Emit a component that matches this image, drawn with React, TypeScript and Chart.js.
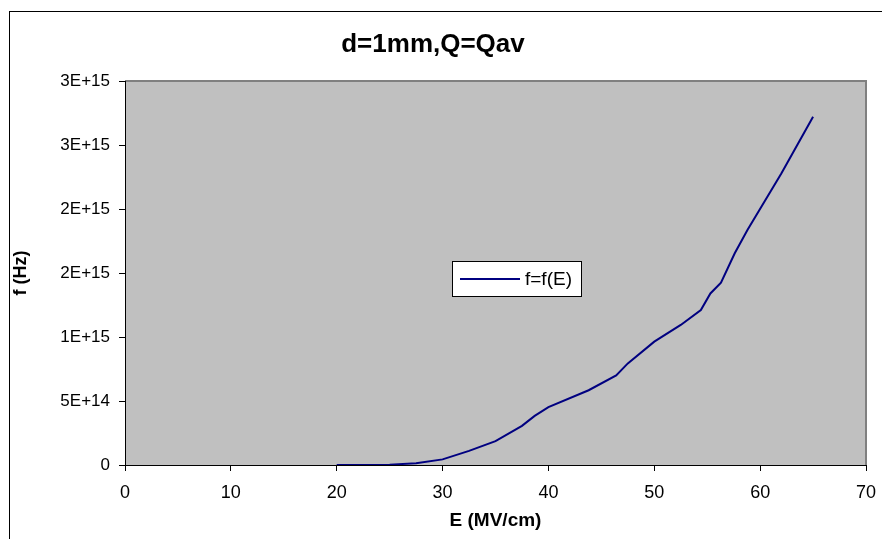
import React, { useEffect, useRef } from "react";
import { Chart, registerables } from "chart.js";

Chart.register(...registerables);

const chartTitle = "d=1mm,Q=Qav";
const xAxisTitle = "E (MV/cm)";
const yAxisTitle = "f (Hz)";
const seriesLabel = "f=f(E)";

const eValues = [20, 22.5, 25, 27.5, 30, 32.5, 35, 37.5, 38.7, 40, 43.8, 46.4, 47.5, 50, 52.5, 54.4, 55.3, 56.3, 57.6, 58.8, 62, 65];
const fValues = [0, 0, 2e12, 1.4e13, 4.4e13, 1.1e14, 1.86e14, 3.06e14, 3.84e14, 4.52e14, 5.84e14, 7.0e14, 7.94e14, 9.64e14, 1.094e15, 1.21e15, 1.34e15, 1.424e15, 1.654e15, 1.836e15, 2.278e15, 2.72e15];

const yTickLabels = ["0", "5E+14", "1E+15", "2E+15", "2E+15", "3E+15", "3E+15"];
const xTickLabels = ["0", "10", "20", "30", "40", "50", "60", "70"];

const FONT = "'Liberation Sans', Arial, sans-serif";

const decorPlugin = {
  id: "decor",
  beforeDraw(chart: any) {
    const { ctx, chartArea } = chart;
    ctx.save();
    ctx.fillStyle = "#ffffff";
    ctx.fillRect(0, 0, chart.width, chart.height);
    ctx.strokeStyle = "#000000";
    ctx.lineWidth = 1;
    ctx.strokeRect(9.5, 11.5, chart.width + 20, chart.height + 20);
    ctx.fillStyle = "#C0C0C0";
    ctx.fillRect(chartArea.left, chartArea.top, chartArea.right - chartArea.left, chartArea.bottom - chartArea.top);
    ctx.strokeStyle = "#808080";
    ctx.lineWidth = 2;
    ctx.beginPath();
    ctx.moveTo(chartArea.left, chartArea.top);
    ctx.lineTo(chartArea.right, chartArea.top);
    ctx.lineTo(chartArea.right, chartArea.bottom);
    ctx.stroke();
    ctx.restore();
  },
  afterDraw(chart: any) {
    const { ctx } = chart;
    const ds = chart.data.datasets[0];
    const bx = 452.5, by = 261.5, bw = 129, bh = 35;
    ctx.save();
    ctx.fillStyle = "#ffffff";
    ctx.fillRect(bx, by, bw, bh);
    ctx.strokeStyle = "#000000";
    ctx.lineWidth = 1;
    ctx.strokeRect(bx, by, bw, bh);
    ctx.strokeStyle = ds.borderColor;
    ctx.lineWidth = 2;
    ctx.beginPath();
    ctx.moveTo(460, 279);
    ctx.lineTo(520, 279);
    ctx.stroke();
    ctx.fillStyle = "#000000";
    ctx.font = `19px ${FONT}`;
    ctx.textBaseline = "middle";
    ctx.textAlign = "left";
    ctx.fillText(ds.label, 525, 280);
    ctx.restore();
  },
};

export default function App() {
  const ref = useRef<HTMLCanvasElement | null>(null);
  useEffect(() => {
    if (!ref.current) return;
    const chart = new Chart(ref.current, {
      type: "line",
      data: {
        datasets: [
          {
            label: seriesLabel,
            data: eValues.map((e, i) => ({ x: e, y: fValues[i] })),
            borderColor: "#000080",
            backgroundColor: "#000080",
            borderWidth: 2,
            pointRadius: 0,
            tension: 0,
            fill: false,
          },
        ],
      },
      options: {
        responsive: false,
        animation: false,
        layout: { padding: { left: 0, right: 16, top: 0, bottom: 0 } },
        plugins: {
          legend: { display: false },
          tooltip: { enabled: false },
          title: {
            display: true,
            text: chartTitle,
            color: "#000000",
            font: { family: FONT, size: 26, weight: "bold", lineHeight: 1.2 },
            padding: { top: 29, bottom: 20.8 },
          },
        },
        scales: {
          x: {
            type: "linear",
            min: 0,
            max: 70,
            afterFit(scale: any) {
              scale.height = 74;
              scale.paddingLeft = 0;
              scale.paddingRight = 0;
            },
            afterBuildTicks(scale: any) {
              scale.ticks = xTickLabels.map((_, i) => ({ value: i * 10 }));
            },
            ticks: {
              color: "#000000",
              font: { family: FONT, size: 18 },
              padding: 11,
              maxRotation: 0,
              autoSkip: false,
              callback: (_v: any, i: number) => xTickLabels[i],
            },
            grid: { drawOnChartArea: false, tickLength: 6, color: "#000000", tickColor: "#000000" },
            border: { color: "#000000", width: 1 },
            title: {
              display: true,
              text: xAxisTitle,
              color: "#000000",
              font: { family: FONT, size: 19, weight: "bold", lineHeight: 1.2 },
              padding: { top: 0, bottom: 7 },
            },
          },
          y: {
            type: "linear",
            min: 0,
            max: 3e15,
            afterFit(scale: any) {
              scale.width = 125;
            },
            afterBuildTicks(scale: any) {
              scale.ticks = yTickLabels.map((_, i) => ({ value: i * 5e14 }));
            },
            ticks: {
              color: "#000000",
              font: { family: FONT, size: 17 },
              padding: 9,
              autoSkip: false,
              callback: (_v: any, i: number) => yTickLabels[i],
            },
            grid: { drawOnChartArea: false, tickLength: 6, color: "#000000", tickColor: "#000000" },
            border: { color: "#000000", width: 1 },
            title: {
              display: true,
              text: yAxisTitle,
              color: "#000000",
              font: { family: FONT, size: 18, weight: "bold", lineHeight: 1.2 },
              padding: { top: 10, bottom: 0 },
            },
          },
        },
      },
      plugins: [decorPlugin],
    } as any);
    return () => chart.destroy();
  }, []);
  return (
    <div style={{ position: "fixed", left: 0, top: 0, width: 882, height: 539 }}>
      <canvas ref={ref} width={882} height={539} style={{ display: "block" }} />
    </div>
  );
}
